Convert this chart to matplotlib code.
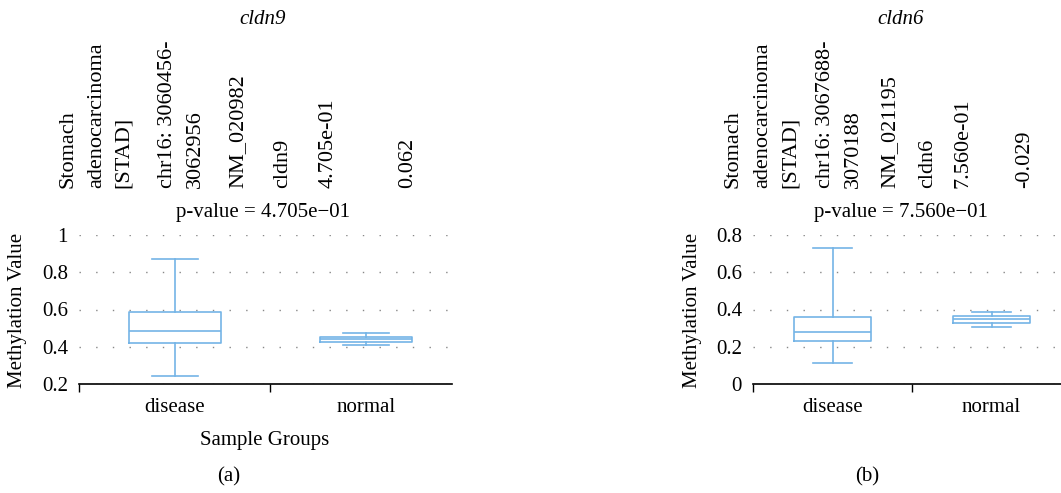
import matplotlib
matplotlib.use("Agg")
import matplotlib.pyplot as plt

# box statistics: low whisker, q1, median, q3, high whisker
groups = ["disease", "normal"]
a_whislo = [0.241, 0.409]
a_q1 = [0.418, 0.425]
a_med = [0.483, 0.440]
a_q3 = [0.585, 0.454]
a_whishi = [0.871, 0.474]

b_whislo = [0.113, 0.308]
b_q1 = [0.233, 0.328]
b_med = [0.281, 0.347]
b_q3 = [0.358, 0.365]
b_whishi = [0.732, 0.385]

a_info = ["Stomach", "adenocarcinoma", "[STAD]", "chr16: 3060456-", "3062956",
          "NM_020982", "cldn9", "4.705e-01", "0.062"]
b_info = ["Stomach", "adenocarcinoma", "[STAD]", "chr16: 3067688-", "3070188",
          "NM_021195", "cldn6", "7.560e-01", "-0.029"]
a_info_x = [68, 97, 123, 167, 195, 238, 283, 328, 408]
b_info_x = [733, 763, 790, 825, 853, 890, 928, 963, 1025]

plt.rcParams['font.family'] = ['Liberation Serif', 'DejaVu Serif']
plt.rcParams['font.size'] = 15

W, H = 1061, 493
BLUE = "#74b4e6"
FS = 15

fig = plt.figure(figsize=(W / 100, H / 100), dpi=100)


def px(x, y):
    return x / W, 1 - y / H


def stats(lo, q1, med, q3, hi):
    out = []
    for i in range(len(groups)):
        out.append({"whislo": lo[i], "q1": q1[i], "med": med[i],
                    "q3": q3[i], "whishi": hi[i], "fliers": []})
    return out


def panel(rect, st, xlim, minor, ylim, yticks, yticklabels):
    ax = fig.add_axes(rect)
    props = dict(color=BLUE, linewidth=1.2)
    ax.bxp(st, positions=[1, 2], widths=0.48, capwidths=0.24, showfliers=False,
           boxprops=props, whiskerprops=props, capprops=props, medianprops=props)
    ax.set_xlim(*xlim)
    ax.set_ylim(*ylim)
    ax.set_yticks(yticks)
    ax.set_yticklabels(yticklabels, fontsize=FS)
    ax.set_xticks([1, 2])
    ax.set_xticklabels(groups, fontsize=FS)
    ax.set_xticks(minor, minor=True)
    ax.tick_params(axis="x", which="major", length=0, pad=10)
    ax.tick_params(axis="x", which="minor", length=6, width=1)
    ax.tick_params(axis="y", length=0, pad=8)
    for s in ["left", "right", "top"]:
        ax.spines[s].set_visible(False)
    ax.spines["bottom"].set_linewidth(1.2)
    ax.yaxis.grid(True, linestyle=(0, (1, 11)), color="#888888", linewidth=1)
    ax.set_axisbelow(True)
    return ax


axa = panel([79 / W, 1 - 384 / H, 373 / W, 149 / H],
            stats(a_whislo, a_q1, a_med, a_q3, a_whishi),
            (0.5, 2.45), [0.5, 1.5], (0.2, 1.0), [0.2, 0.4, 0.6, 0.8, 1.0],
            ["0.2", "0.4", "0.6", "0.8", "1"])
axb = panel([753 / W, 1 - 384 / H, 318 / W, 149 / H],
            stats(b_whislo, b_q1, b_med, b_q3, b_whishi),
            (0.5, 2.5), [0.5, 1.5, 2.5], (0.0, 0.8), [0.0, 0.2, 0.4, 0.6, 0.8],
            ["0", "0.2", "0.4", "0.6", "0.8"])

# titles, info columns, p-values
fig.text(*px(263, 20), "cldn9", style="italic", ha="center", va="center", fontsize=FS)
fig.text(*px(901, 20), "cldn6", style="italic", ha="center", va="center", fontsize=FS)
for x, t in zip(a_info_x, a_info):
    fig.text(*px(x, 188), t, rotation=90, ha="center", va="bottom", fontsize=16)
for x, t in zip(b_info_x, b_info):
    fig.text(*px(x, 188), t, rotation=90, ha="center", va="bottom", fontsize=16)
fig.text(*px(263, 213), "p-value = 4.705e\u221201", ha="center", va="center", fontsize=FS)
fig.text(*px(901, 213), "p-value = 7.560e\u221201", ha="center", va="center", fontsize=FS)

fig.text(*px(18, 310), "Methylation Value", rotation=90, ha="center", va="center", fontsize=FS)
fig.text(*px(693, 310), "Methylation Value", rotation=90, ha="center", va="center", fontsize=FS)
fig.text(*px(265, 440), "Sample Groups", ha="center", va="center", fontsize=FS)
fig.text(*px(229, 477), "(a)", ha="center", va="center", fontsize=FS)
fig.text(*px(867, 477), "(b)", ha="center", va="center", fontsize=FS)

fig.savefig("out.png", dpi=100)
